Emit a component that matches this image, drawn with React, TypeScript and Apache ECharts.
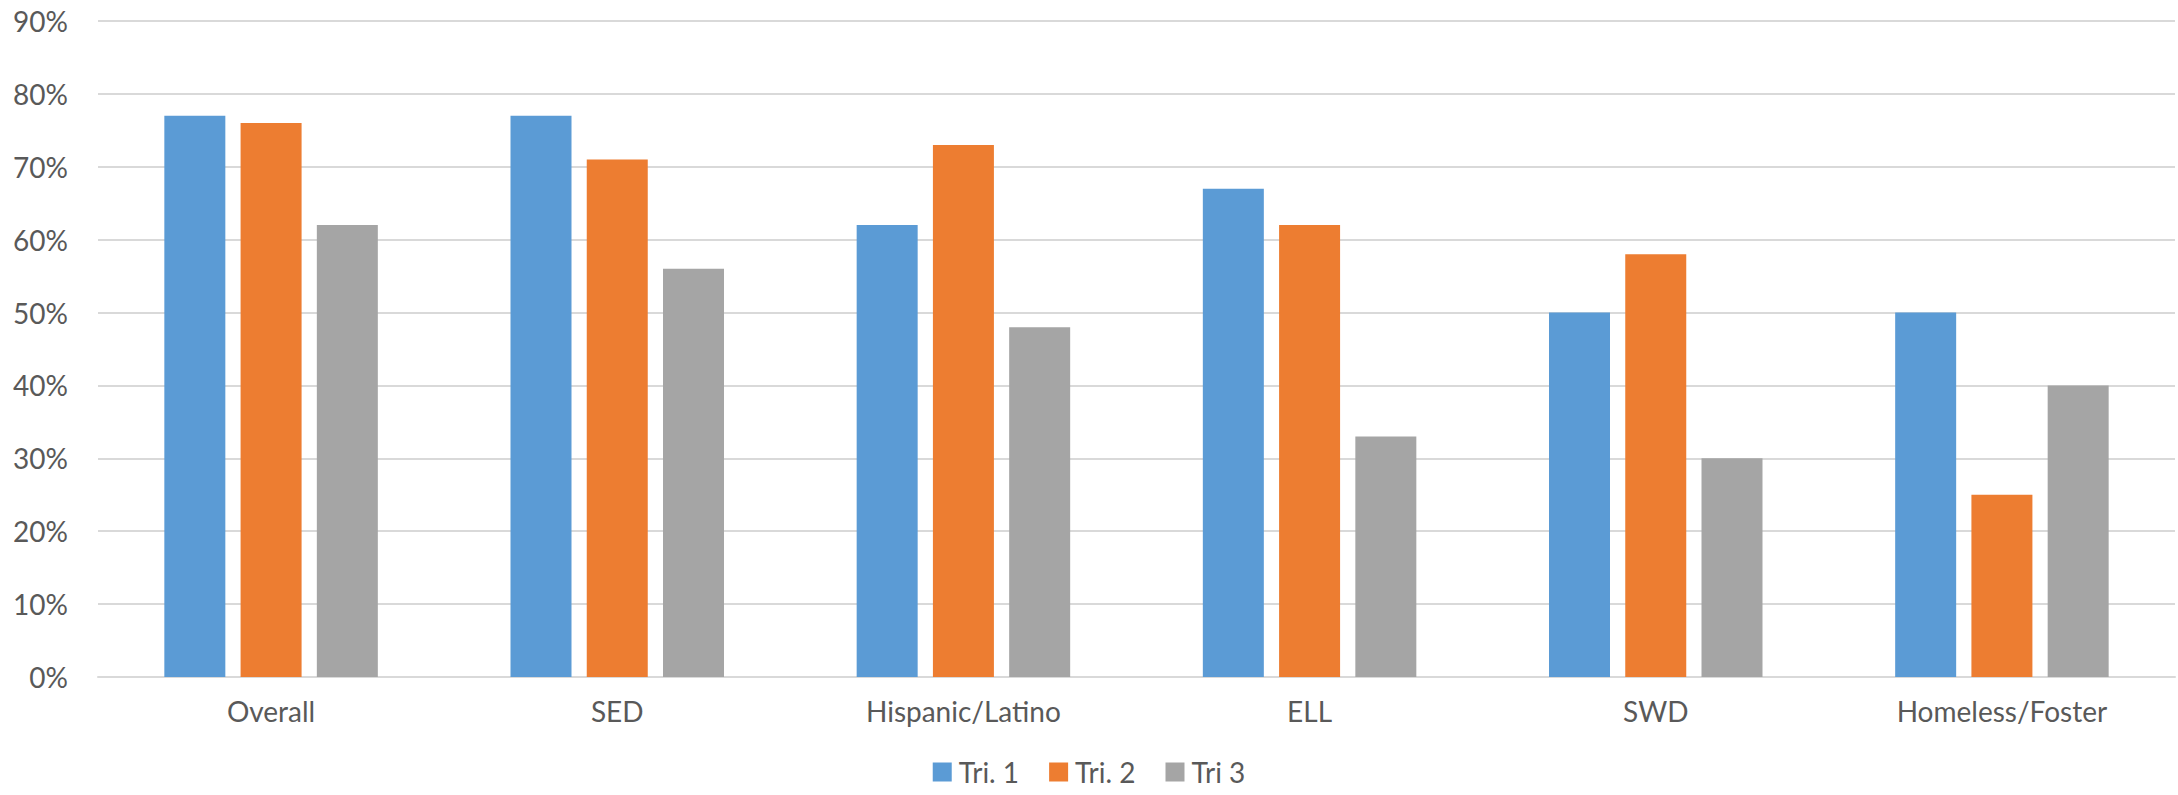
import React, { useEffect, useRef } from "react";
import * as echarts from "echarts";

const categories = ["Overall", "SED", "Hispanic/Latino", "ELL", "SWD", "Homeless/Foster"];
const tri1 = [77, 77, 62, 67, 50, 50];
const tri2 = [76, 71, 73, 62, 58, 25];
const tri3 = [62, 56, 48, 33, 30, 40];
const seriesNames = ["Tri. 1", "Tri. 2", "Tri 3"];
const colors = ["#5B9BD5", "#ED7D31", "#A5A5A5"];

const FONT = "Lato, 'Open Sans', sans-serif";
const TEXT = "#595959";

export default function App() {
  const ref = useRef<HTMLDivElement>(null);
  useEffect(() => {
    document.body.style.margin = "0";
    if (!ref.current) return;
    const chart = echarts.init(ref.current, null, { renderer: "svg" });
    const data = [tri1, tri2, tri3];
    chart.setOption({
      animation: false,
      backgroundColor: "#ffffff",
      grid: { left: 98, right: 3, top: 21, bottom: 118 },
      legend: {
        data: seriesNames,
        bottom: 4,
        left: "center",
        itemWidth: 19,
        itemHeight: 19,
        itemGap: 30,
        icon: "rect",
        textStyle: { color: TEXT, fontSize: 28, fontFamily: FONT, padding: [0, 0, 0, 2] },
      },
      xAxis: {
        type: "category",
        data: categories,
        axisLine: { show: true, lineStyle: { color: "#D9D9D9", width: 2 } },
        axisTick: { show: false },
        axisLabel: { color: TEXT, fontSize: 28, fontFamily: FONT, margin: 20 },
      },
      yAxis: {
        type: "value",
        min: 0,
        max: 90,
        interval: 10,
        axisLine: { show: false },
        axisTick: { show: false },
        splitLine: { lineStyle: { color: "#D9D9D9", width: 2 } },
        axisLabel: {
          color: TEXT,
          fontSize: 28,
          fontFamily: FONT,
          margin: 30,
          formatter: (v: number) => `${v}%`,
        },
      },
      series: seriesNames.map((name, i) => ({
        name,
        type: "bar",
        data: data[i],
        barWidth: 61,
        barGap: "25%",
        itemStyle: { color: colors[i] },
      })),
    });
    return () => chart.dispose();
  }, []);
  return <div ref={ref} style={{ width: 2178, height: 795 }} />;
}
